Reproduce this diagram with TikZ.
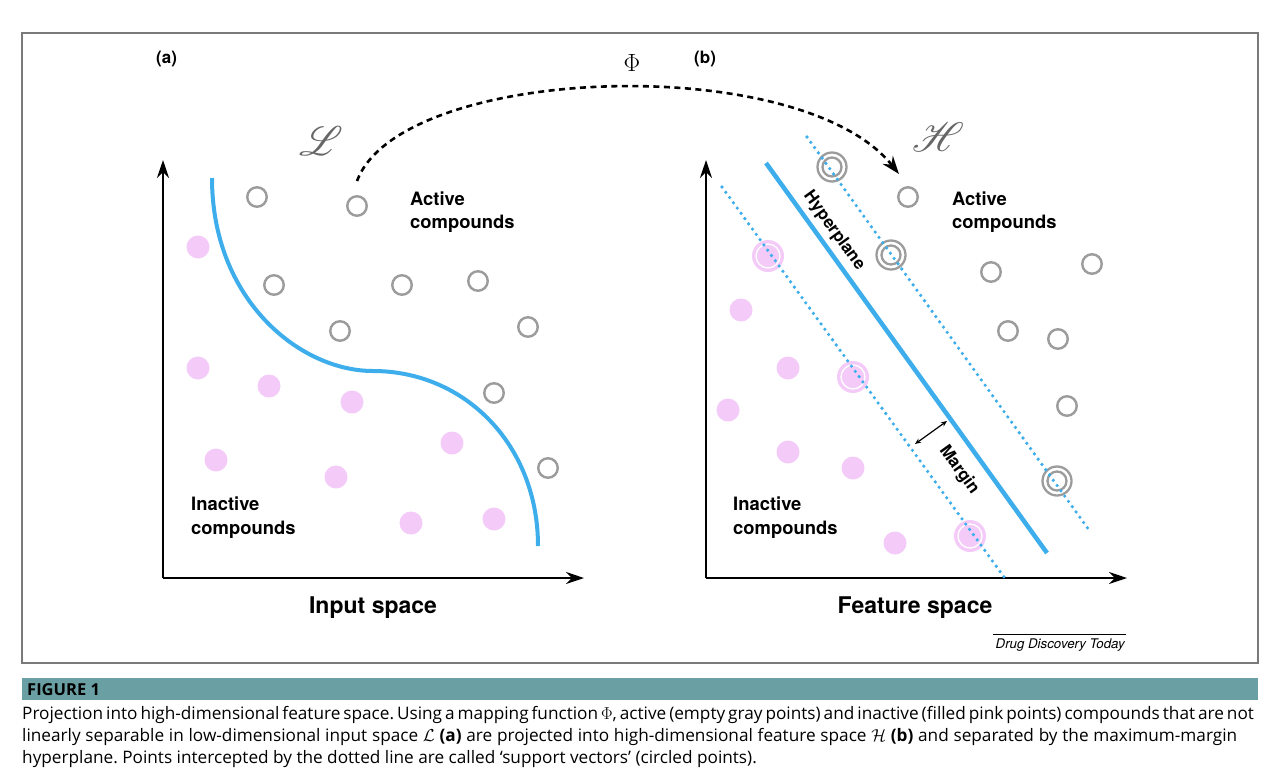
\documentclass[tikz,border=0pt]{standalone}
\usepackage{fontspec}
\usepackage{mathrsfs}
\setmainfont{TeX Gyre Heros}
\newfontfamily\capfont{Open Sans}
\usetikzlibrary{arrows.meta}
\definecolor{sky}{HTML}{3DAEEB}
\definecolor{pinkpt}{HTML}{F4CBF8}
\definecolor{graypt}{HTML}{9C9C9C}
\definecolor{barteal}{HTML}{6A9FA3}
\definecolor{framegray}{HTML}{7A7A7A}
\frenchspacing
\tikzset{
  act/.style={circle, draw=graypt, line width=2.4pt, minimum size=19.5pt, inner sep=0pt},
  inact/.style={circle, fill=pinkpt, minimum size=23pt, inner sep=0pt},
  svact/.style={circle, draw=graypt, line width=2.3pt, minimum size=29pt, inner sep=0pt},
  svinact/.style={circle, fill=pinkpt, minimum size=32pt, inner sep=0pt},
  lbl/.style={font=\bfseries\fontsize{18.4}{23.5}\selectfont, align=left, inner sep=0pt},
  axis/.style={line width=2.2pt, -{Stealth[length=18pt,width=12pt,inset=6pt]}},
  sep/.style={sky, line width=4pt},
  marginline/.style={sky, line width=3.6pt, line cap=round, dash pattern=on 0pt off 6.5pt},
  maparrow/.style={line width=2.6pt, dash pattern=on 6pt off 4.5pt, -{Stealth[length=18pt,width=13pt,inset=6pt]}},
  panel/.style={font=\bfseries\fontsize{17}{20}\selectfont, inner sep=0pt},
  scriptlbl/.style={text=black!60, font=\fontsize{34}{40}\selectfont, inner sep=0pt},
  caption/.style={font=\capfont\fontsize{17.2}{22}\selectfont, inner sep=0pt, anchor=base west},
}
\begin{document}
\begin{tikzpicture}[x=1pt,y=-1pt]
\useasboundingbox (0,0) rectangle (1286,780);
\fill[white] (0,0) rectangle (1286,780);
% frame
\draw[framegray, line width=1.2pt] (22,33) rectangle (1258,663);

% ---------- panel (a) ----------
\node[panel, anchor=base west] (pa) at (156,63) {(a)};
\coordinate (oa) at (163,578);
\coordinate (ya) at (163,160);
\coordinate (xa) at (584,578);
\draw[axis] (oa) -- (ya);
\draw[axis] (oa) -- (xa);
\node[font=\bfseries\fontsize{23}{28}\selectfont, anchor=base] (ina) at (373,613) {Input space};
\node[scriptlbl] (scl) at (321,141) {\scalebox{1.65}{$\mathscr{L}$}};

% separating curve
\coordinate (ca) at (212,178);
\coordinate (cb) at (373,371);
\coordinate (cc) at (538,546);
\draw[sep] (ca) .. controls (212,300) and (300,371) .. (cb) .. controls (465,371) and (538,445) .. (cc);

% active (empty gray)
\node[act] (A1) at (257,197) {};
\node[act] (A2) at (357,206) {};
\node[act] (A3) at (274,285) {};
\node[act] (A4) at (402,285) {};
\node[act] (A5) at (478,281) {};
\node[act] (A6) at (340,331) {};
\node[act] (A7) at (528,327) {};
\node[act] (A8) at (494,393) {};
\node[act] (A9) at (548,468) {};
% inactive (filled pink)
\node[inact] (I1) at (198,247) {};
\node[inact] (I2) at (198,368) {};
\node[inact] (I3) at (269,386) {};
\node[inact] (I4) at (352,402) {};
\node[inact] (I5) at (452,443) {};
\node[inact] (I6) at (216,460) {};
\node[inact] (I7) at (336,477) {};
\node[inact] (I8) at (411,523) {};
\node[inact] (I9) at (494,519) {};

\node[lbl, anchor=north west] (acta) at (410,191.5) {Active\\compounds};
\node[lbl, anchor=north west] (inacta) at (191,497) {Inactive\\compounds};

% ---------- mapping arrow ----------
\node[font=\fontsize{25}{28}\selectfont, inner sep=0pt] (phi) at (632,63) {$\Phi$};
\coordinate (ms) at (357,181);
\coordinate (me) at (899,174);
\draw[maparrow] (ms) .. controls (400,65) and (800,50) .. (me);

% ---------- panel (b) ----------
\node[panel, anchor=base west] (pb) at (694,63) {(b)};
\coordinate (ob) at (706,578);
\coordinate (yb) at (706,160);
\coordinate (xb) at (1127,578);
\draw[axis] (ob) -- (yb);
\draw[axis] (ob) -- (xb);
\node[font=\bfseries\fontsize{23}{28}\selectfont, anchor=base] (fsp) at (915,613) {Feature space};
\node[scriptlbl] (sch) at (938,137) {\scalebox{1.65}{$\mathscr{H}$}};

% active
\node[act] (B1) at (908,197) {};
\node[act] (B2) at (991,272) {};
\node[act] (B3) at (1092,264) {};
\node[act] (B4) at (1008,331) {};
\node[act] (B5) at (1058,339) {};
\node[act] (B6) at (1067,406) {};
% active support vectors
\node[svact] (S1) at (832,167) {};
\node[svact] (S2) at (891,255) {};
\node[svact] (S3) at (1057,481) {};
\foreach \s in {S1,S2,S3} \draw[graypt, line width=2.3pt] (\s.center) circle (9.5);
% inactive
\node[inact] (J1) at (741,310) {};
\node[inact] (J2) at (788,368) {};
\node[inact] (J3) at (728,410) {};
\node[inact] (J4) at (788,452) {};
\node[inact] (J5) at (853,468) {};
\node[inact] (J6) at (895,543) {};
% inactive support vectors
\node[svinact] (P1) at (768,256) {};
\node[svinact] (P2) at (853,377) {};
\node[svinact] (P3) at (970,536) {};
\foreach \s in {P1,P2,P3} \draw[white, line width=1.3pt] (\s.center) circle (12);

% hyperplane and margins
\coordinate (h1) at (766,163);
\coordinate (h2) at (1047,553);
\coordinate (l1) at (722,187);
\coordinate (l2) at (1004,577);
\coordinate (u1) at (807,137);
\coordinate (u2) at (1089,530);
\draw[sky, line width=4.5pt] (h1) -- (h2);
\draw[marginline] (l1) -- (l2);
\draw[marginline] (u1) -- (u2);

\coordinate (m1) at (915,444);
\coordinate (m2) at (947,421);
\draw[line width=1.2pt, {Stealth[length=6pt,width=5pt]}-{Stealth[length=6pt,width=5pt]}] (m1) -- (m2);

\node[font=\bfseries\fontsize{17}{20}\selectfont, rotate=-54.2, inner sep=0pt] (hyp) at (834,231) {Hyperplane};
\node[font=\bfseries\fontsize{17}{20}\selectfont, rotate=-54.2, inner sep=0pt] (mar) at (959,470) {Margin};

\node[lbl, anchor=north west] (actb) at (952,191.5) {Active\\compounds};
\node[lbl, anchor=north west] (inactb) at (733,497) {Inactive\\compounds};

% source
\node[font=\itshape\fontsize{13.3}{16}\selectfont, anchor=base east, inner sep=0pt] (src) at (1125,648) {Drug Discovery Today};
\coordinate (sl1) at (993,634);
\coordinate (sl2) at (1126,634);
\draw[line width=0.7pt] (sl1) -- (sl2);

% ---------- caption ----------
\fill[barteal] (22,678) rectangle (1258,700);
\node[caption, font=\capfont\bfseries\fontsize{16.5}{18}\selectfont] (fig) at (27,695) {FIGURE 1};
\node[caption] (c1) at (22,719) {\makebox[1215pt][s]{Projection into high-dimensional feature space. Using a mapping function $\Phi$, active (empty gray points) and inactive (filled pink points) compounds that are not}};
\node[caption] (c2) at (22,741) {\makebox[1215pt][s]{linearly separable in low-dimensional input space $\mathcal{L}$ \textbf{(a)} are projected into high-dimensional feature space $\mathcal{H}$ \textbf{(b)} and separated by the maximum-margin}};
\node[caption] (c3) at (22,763) {hyperplane. Points intercepted by the dotted line are called ‘support vectors’ (circled points).};
\end{tikzpicture}
\end{document}
